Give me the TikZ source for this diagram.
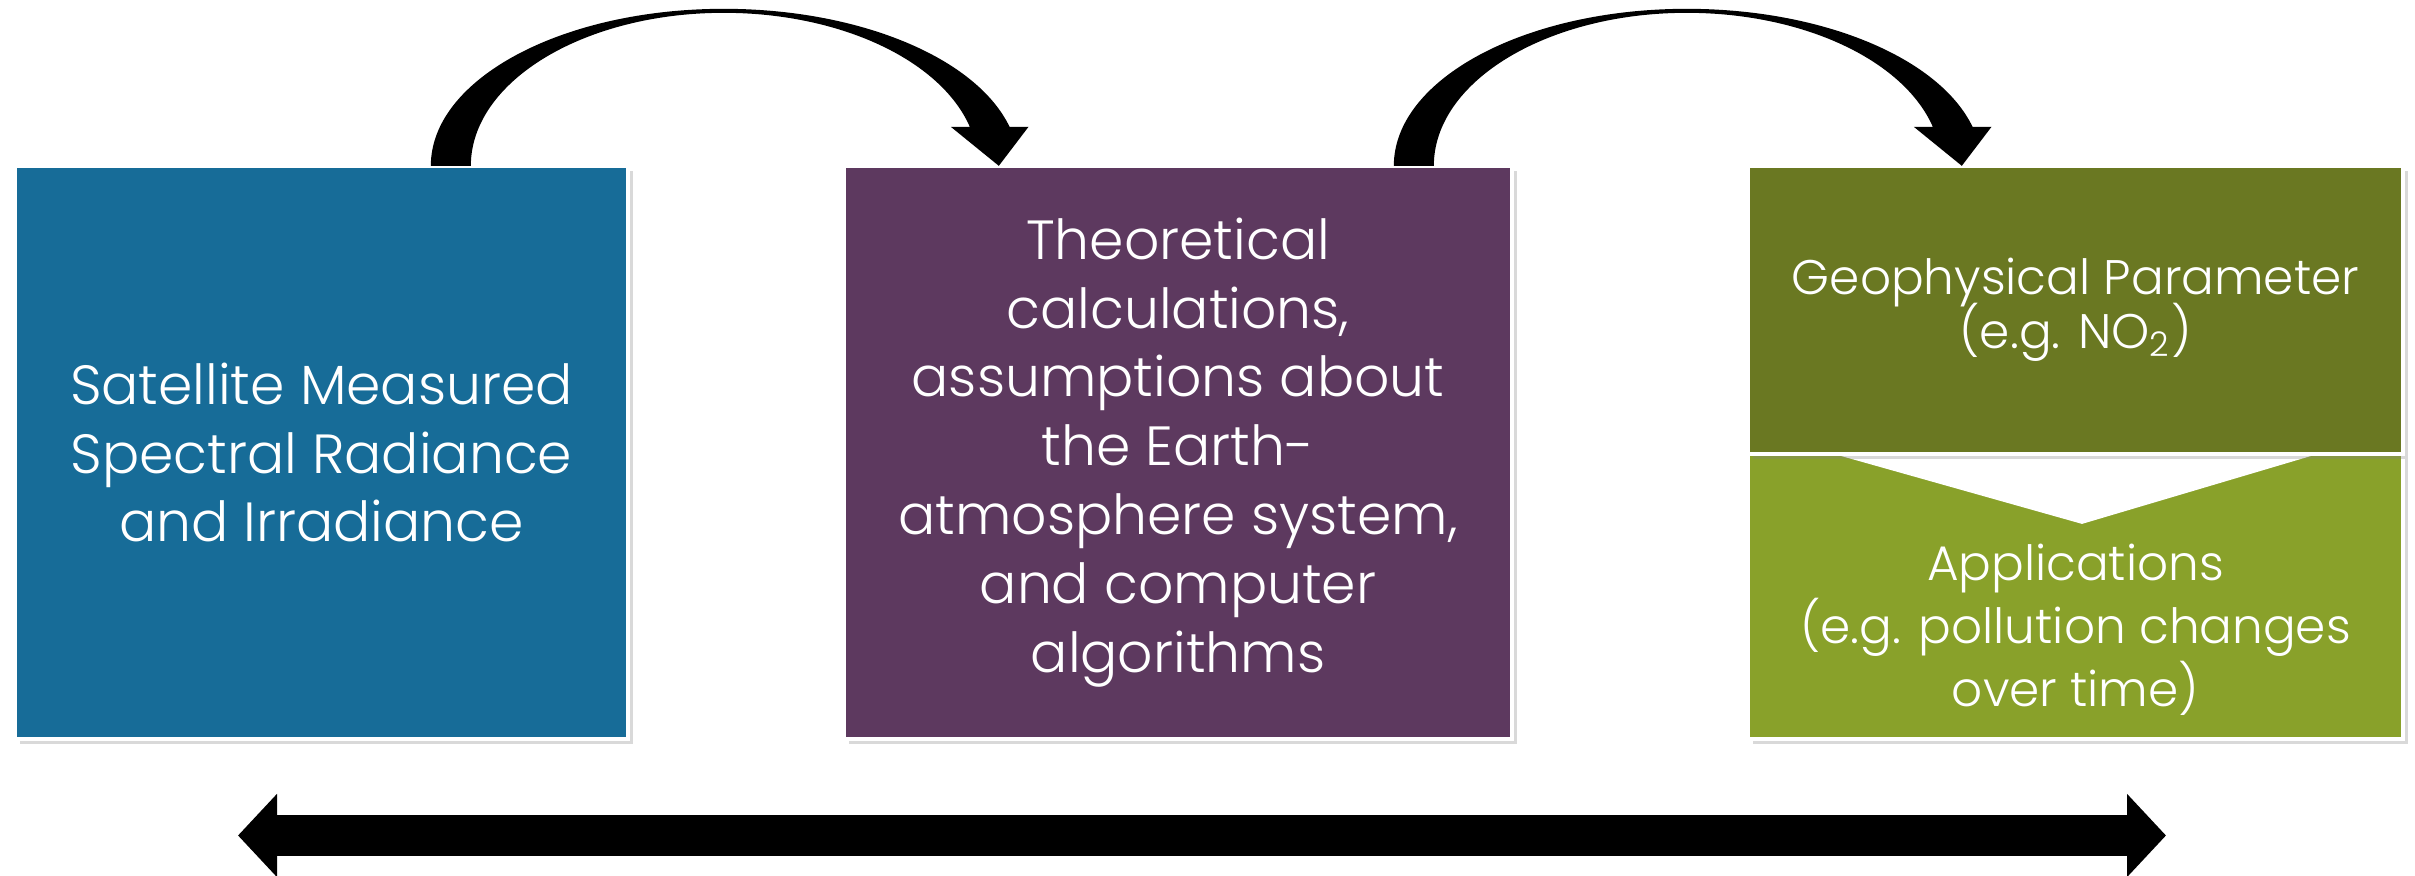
\documentclass[tikz,border=0pt]{standalone}
\usepackage{fontspec}
\setmainfont{Poppins Light}
\usetikzlibrary{arrows.meta,positioning,shadows,calc}

\definecolor{boxblue}{RGB}{23,108,152}
\definecolor{boxplum}{RGB}{93,57,95}
\definecolor{boxolive}{RGB}{106,120,34}
\definecolor{boxlime}{RGB}{137,161,42}

\newcommand{\tightlines}{\setlength{\lineskiplimit}{-20pt}}

\tikzset{
  stage/.style={rectangle, draw=white, line width=1.2pt, text=white, align=center,
    inner sep=0pt, outer sep=0pt,
    drop shadow={shadow xshift=1.5pt, shadow yshift=-1.5pt, opacity=0.3}},
  bigtext/.style={font={\fontsize{15.7}{19.6}\selectfont\tightlines}},
  smalltext/.style={font={\fontsize{13.8}{15.4}\selectfont\tightlines}},
  % thick curved arrow, origin at the left foot of the tail
  bendarrow/.pic={
    \fill[black] (0,0) arc[start angle=180, end angle=90, x radius=293, y radius=157]
      arc[start angle=90, end angle=14.4, x radius=295, y radius=157]
      -- ++(19,0) -- (568,0) -- (520,39) -- (539,39)
      arc[start angle=14.77, end angle=90, x radius=254.4, y radius=153]
      arc[start angle=90, end angle=180, x radius=253, y radius=153]
      -- cycle;
  }
}

\begin{document}
\begin{tikzpicture}[x=0.01cm, y=0.01cm]
  \useasboundingbox (0,0) rectangle (2415,876);

  \node[stage, bigtext, fill=boxblue, minimum width=6.13cm, minimum height=5.73cm] (sat) at (321.5,423.5)
    {Satellite Measured\\Spectral Radiance\\and Irradiance};
  \node[stage, bigtext, fill=boxplum, minimum width=6.68cm, minimum height=5.73cm] (theo) at (1178,423.5)
    {Theoretical\\calculations,\\assumptions about\\the Earth-\\atmosphere system,\\and computer\\algorithms};

  \node[stage, fill=boxlime, minimum width=6.55cm, minimum height=2.85cm] (app) at (2075.5,279.5) {};
  \fill[white] ($(app.north west)+(93,-2)$) -- ($(app.north east)+(-92,-2)$) -- ($(app.north)+(6.5,-70)$) -- cycle;
  \node[stage, smalltext, fill=boxolive, minimum width=6.55cm, minimum height=2.88cm] (geo) at (2075.5,566)
    {Geophysical Parameter\\(e.g. NO\textsubscript{2})};
  \node[text=white, align=center, font={\fontsize{13.8}{17.9}\selectfont\tightlines}] (apptext) at (2075.5,246)
    {Applications\\(e.g. pollution changes\\over time)};

  \pic at ($(sat.north west)+(416,0)$) {bendarrow};
  \pic at ($(theo.north west)+(550,0)$) {bendarrow};

  \coordinate (span-l) at (238,40.5);
  \coordinate (span-r) at (2166,40.5);
  \draw[line width=0.41cm, {Triangle[length=0.39cm,width=0.81cm]}-{Triangle[length=0.39cm,width=0.81cm]}]
    (span-l) -- (span-r);
\end{tikzpicture}
\end{document}
